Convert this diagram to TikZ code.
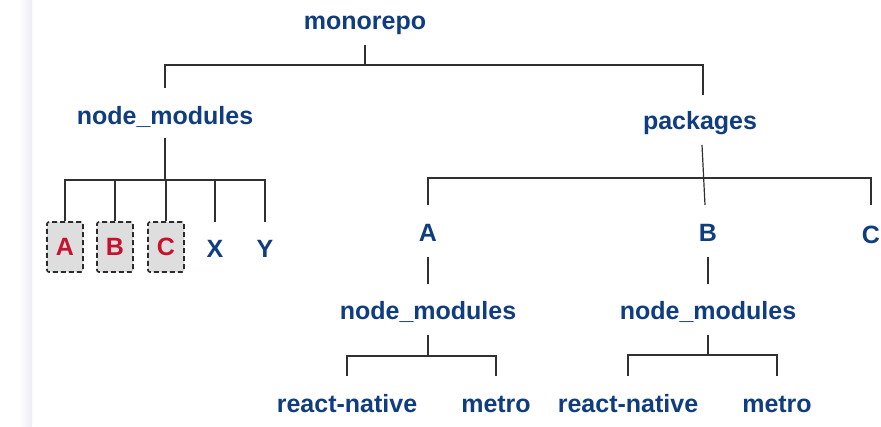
\documentclass[tikz,border=0pt]{standalone}
\usepackage{fontspec}
\setmainfont{Liberation Sans}
\usetikzlibrary{positioning,calc}
\definecolor{dirblue}{HTML}{103D7F}
\definecolor{hoistred}{HTML}{C4122F}
\definecolor{boxgray}{HTML}{DEDEDE}
\definecolor{linegray}{HTML}{303030}
\definecolor{dashgray}{HTML}{2A2A2A}
\definecolor{edgegray}{HTML}{EEEEF4}

\begin{document}
\begin{tikzpicture}[x=1pt,y=-1pt]
\tikzset{dir/.style={font=\bfseries\fontsize{25}{25}\selectfont,
text=dirblue, inner sep=0pt, anchor=base}}
\tikzset{hoisted/.style={dir, anchor=center, text=hoistred,
fill=boxgray, draw=dashgray, line width=1.6pt, dash pattern=on 5pt off 3pt,
rounded corners=2pt, minimum width=36pt, minimum height=50pt}}
\tikzset{branch/.style={draw=linegray, line width=1.2pt}}
% page and left shadow
\fill[white] (0,0) rectangle (881,426);
\shade[left color=white, right color=edgegray] (18,0) rectangle (32,426);
\useasboundingbox (0,0) rectangle (881,426);
% root
\node[dir] (mono) at (365,29) {monorepo};
\node[dir] (rootnm) at (165,124) {node\_modules};
\node[dir] (pkgs) at (700,129) {packages};
\draw[branch] ([yshift=-16pt]mono.base) -- ([yshift=-36pt]mono.base);
\draw[branch] ([yshift=36pt]rootnm.base) |- ([yshift=-36pt]mono.base)
-| ([xshift=3pt,yshift=34pt]pkgs.base);
% hoisted node_modules
\node[hoisted] (hoistA) at (65,247) {A};
\node[hoisted] (hoistB) at (115,247) {B};
\node[hoisted] (hoistC) at (166,247) {C};
\node[dir] (leafX) at (215,257) {X};
\node[dir] (leafY) at (265,257) {Y};
\draw[branch] ([yshift=-14pt]rootnm.base) -- ([yshift=-56pt]rootnm.base) coordinate (rootbar);
\foreach \c in {hoistA,hoistB,hoistC}
\draw[branch] (\c.north) |- (rootbar);
\foreach \c in {leafX,leafY}
\draw[branch] ([yshift=35pt]\c.base) |- (rootbar);
% packages
\node[dir] (pkgA) at (428,241) {A};
\node[dir] (pkgB) at (708,241) {B};
\node[dir] (pkgC) at (871,243) {C};
\draw[branch] ([xshift=2pt,yshift=-16pt]pkgs.base) -- ([xshift=-3pt,yshift=36pt]pkgB.base);
\draw[branch] ([yshift=36pt]pkgA.base) |- ([yshift=63pt]pkgA.base)
-| ([yshift=38pt]pkgC.base);
% nested node_modules
\node[dir] (nmA) at (428,319) {node\_modules};
\node[dir] (nmB) at (708,319) {node\_modules};
\node[dir] (rnA) at (347,412) {react-native};
\node[dir] (metA) at (496,412) {metro};
\node[dir] (rnB) at (628,412) {react-native};
\node[dir] (metB) at (777,412) {metro};
\foreach \p/\n in {pkgA/nmA,pkgB/nmB}
\draw[branch] ([yshift=-16pt]\p.base) -- ([yshift=35pt]\n.base);
\draw[branch] ([yshift=-16pt]nmA.base) -- ([yshift=-37pt]nmA.base) coordinate (nmAbar);
\draw[branch] ([yshift=-16pt]nmB.base) -- ([yshift=-36pt]nmB.base) coordinate (nmBbar);
\foreach \c in {rnA,metA}
\draw[branch] ([yshift=36pt]\c.base) |- (nmAbar);
\foreach \c in {rnB,metB}
\draw[branch] ([yshift=36pt]\c.base) |- (nmBbar);
\end{tikzpicture}
\end{document}
